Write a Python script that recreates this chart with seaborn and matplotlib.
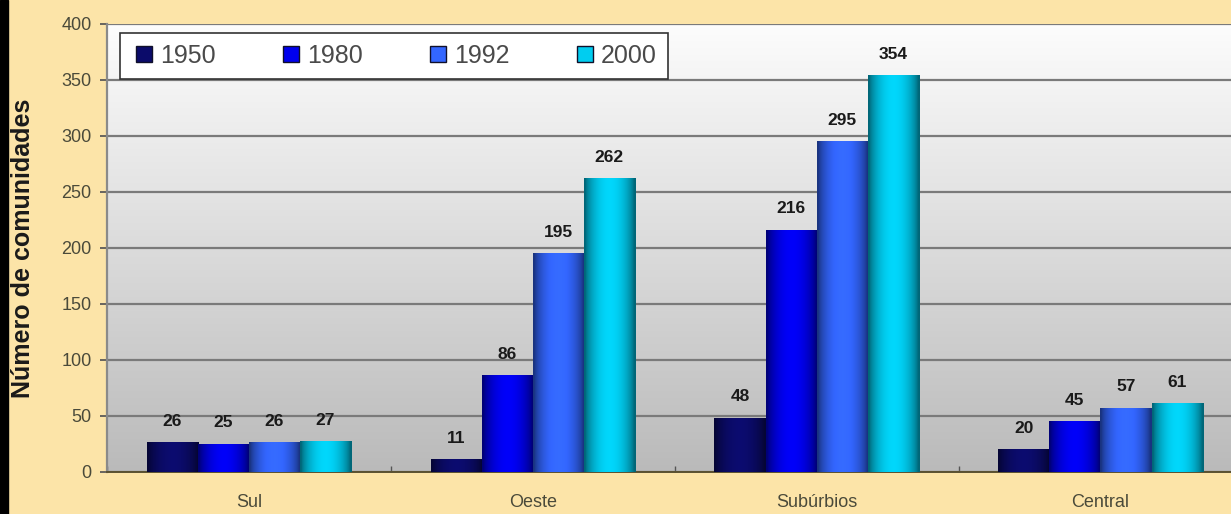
import numpy as np
import pandas as pd
import seaborn as sns
import matplotlib.pyplot as plt
from matplotlib.lines import Line2D
from matplotlib.patches import Rectangle
from matplotlib.colors import to_rgb

# data
regions = ["Sul", "Oeste", "Subúrbios", "Central"]
years = ["1950", "1980", "1992", "2000"]
v1950 = [26, 11, 48, 20]
v1980 = [25, 86, 216, 45]
v1992 = [26, 195, 295, 57]
v2000 = [27, 262, 354, 61]
yticks = [0, 50, 100, 150, 200, 250, 300, 350, 400]

colors = ["#0b0b6a", "#0000ee", "#3366ff", "#00cdf0"]

df = pd.DataFrame({
    "regiao": regions * 4,
    "ano": [y for y in years for _ in regions],
    "valor": v1950 + v1980 + v1992 + v2000,
})

sns.set_theme(style="white")
plt.rcParams["font.family"] = ["Liberation Sans", "DejaVu Sans"]

fig = plt.figure(figsize=(12.31, 5.14), dpi=100, facecolor="#fce4a8")
ax = fig.add_axes([107 / 1231, 42 / 514, 1124 / 1231, 448 / 514])

# black strip on the left edge
fig.patches.append(Rectangle((0, 0), 8 / 1231, 1, transform=fig.transFigure,
                             color="black", zorder=10))

# gradient plot background (white at top, grey at bottom)
grad = np.linspace(0, 1, 256).reshape(-1, 1)
top, bot = np.array([0.99, 0.99, 0.99]), np.array([0.73, 0.73, 0.73])
bg = top[None, None, :] * (1 - grad[..., None]) + bot[None, None, :] * grad[..., None]
ax.imshow(bg, extent=[0, 1, 0, 1], transform=ax.transAxes, aspect="auto", zorder=-2)

sns.barplot(data=df, x="regiao", y="valor", hue="ano", palette=colors,
            width=0.72, saturation=1, edgecolor="#10102a", linewidth=0.6,
            ax=ax, legend=False, zorder=3)

# cylinder-like shading on each bar
t = np.linspace(0, 1, 64)
shade = 0.5 + 0.55 * np.sin(np.pi * np.clip(t * 1.05 - 0.02, 0, 1)) ** 0.7
for cont, col in zip(ax.containers, colors):
    base = np.array(to_rgb(col))
    strip = np.clip(base[None, :] * shade[:, None], 0, 1)[None, :, :]
    for bar in cont:
        x0, w, h = bar.get_x(), bar.get_width(), bar.get_height()
        ax.imshow(strip, extent=[x0, x0 + w, 0, h], aspect="auto", zorder=3.5)
    ax.bar_label(cont, padding=10, fontsize=12.5, fontweight="bold", color="#1a1a1a")

ax.set_xticks([0, 1, 2, 3])
ax.set_xticks([-0.5, 0.5, 1.5, 2.5], minor=True)
ax.set_xlim(-0.5, 3.46)
ax.set_ylim(0, 400)
ax.set_yticks(yticks)
ax.yaxis.grid(True, color="#7a7a7a", linewidth=1.6)
ax.set_axisbelow(True)
ax.set_xlabel("")
ax.set_ylabel("Número de comunidades", fontsize=18, fontweight="bold",
              color="#1a1a1a")
ax.yaxis.set_label_coords(-0.064, 0.5)

ax.tick_params(axis="x", which="major", length=0, labelsize=13,
               labelcolor="#4a4a3a", pad=16)
ax.tick_params(axis="x", which="minor", length=4, color="#555555",
               direction="in", bottom=True)
ax.tick_params(axis="y", length=5, color="#555555", labelsize=13,
               labelcolor="#4a4a3a", left=True, pad=6)

for s in ["top", "right"]:
    ax.spines[s].set_visible(False)
ax.spines["left"].set_color("#8a8a8a")
ax.spines["left"].set_linewidth(1.6)
ax.spines["bottom"].set_color("#5a5030")
ax.spines["bottom"].set_linewidth(1.4)

handles = [Line2D([], [], marker="s", linestyle="", markersize=11,
                  markerfacecolor=c, markeredgecolor="#10102a") for c in colors]
leg = ax.legend(handles, years, loc="upper left",
                bbox_to_anchor=(0.0116, 0.88, 0.4875, 0.1), mode="expand",
                ncol=4, fontsize=18, frameon=True, fancybox=False,
                edgecolor="#333333", framealpha=1, handletextpad=0.15,
                borderpad=0.45, handlelength=1.0, borderaxespad=0)
leg.get_frame().set_linewidth(1.2)
for txt in leg.get_texts():
    txt.set_color("#4a4a4a")

fig.savefig("out.png", dpi=100, facecolor=fig.get_facecolor())
